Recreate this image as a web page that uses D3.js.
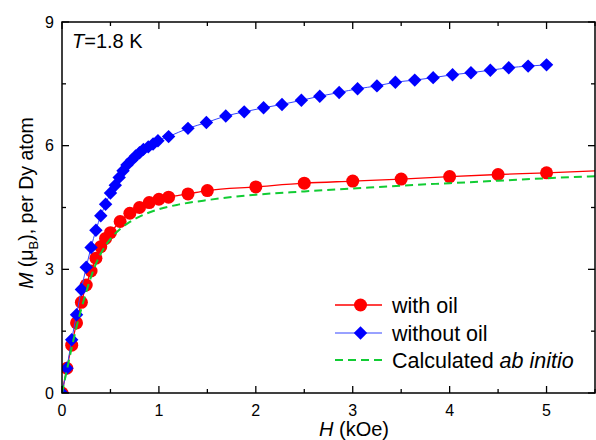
<!DOCTYPE html>
<html>
<head>
<meta charset="utf-8">
<script src="https://cdn.jsdelivr.net/npm/d3@7"></script>
<style>
  body { margin: 0; background: #fff; }
  svg { display: block; font-family: "Liberation Sans", Arial, sans-serif; }
</style>
</head>
<body>
<div id="chart"></div>
<script>
var width = 596;
var height = 440;

// with oil (red circles)
var withOilH = [0, 0.05, 0.1, 0.15, 0.2, 0.25, 0.3, 0.35, 0.4, 0.45, 0.5, 0.6, 0.7, 0.8, 0.9, 1.0, 1.1, 1.3, 1.5, 2.0, 2.5, 3.0, 3.5, 4.0, 4.5, 5.0];
var withOilM = [0, 0.6, 1.16, 1.7, 2.2, 2.62, 2.96, 3.27, 3.55, 3.75, 3.89, 4.16, 4.36, 4.5, 4.62, 4.7, 4.75, 4.83, 4.91, 5.0, 5.09, 5.14, 5.19, 5.25, 5.3, 5.34];
// the red line carries on to the right edge
var withOilTailH = [5.5];
var withOilTailM = [5.39];

// without oil (blue diamonds)
var withoutOilH = [0, 0.05, 0.1, 0.15, 0.2, 0.25, 0.3, 0.35, 0.4, 0.45, 0.5,
  0.55, 0.59, 0.63, 0.67, 0.72, 0.76, 0.8, 0.84, 0.89, 0.94, 0.99,
  1.1, 1.3, 1.49, 1.69, 1.88, 2.08, 2.27, 2.47, 2.66, 2.86, 3.05, 3.25, 3.44, 3.64, 3.83, 4.03, 4.22, 4.42, 4.61, 4.81, 5.0];
var withoutOilM = [0, 0.6, 1.29, 1.9, 2.51, 3.05, 3.53, 3.95, 4.3, 4.58, 4.85,
  5.04, 5.23, 5.39, 5.53, 5.65, 5.75, 5.83, 5.91, 5.97, 6.04, 6.12,
  6.22, 6.42, 6.56, 6.72, 6.82, 6.92, 7.0, 7.1, 7.2, 7.29, 7.38, 7.45, 7.54, 7.59, 7.65, 7.72, 7.77, 7.83, 7.89, 7.93, 7.96];

// calculated ab initio (green dashed)
var calcH = [0, 0.05, 0.1, 0.15, 0.2, 0.25, 0.3, 0.35, 0.4, 0.45, 0.5, 0.6, 0.7, 0.8, 0.9, 1.0, 1.2, 1.5, 2.0, 2.5, 3.0, 3.5, 4.0, 4.5, 5.0, 5.5];
var calcM = [0, 0.55, 1.1, 1.6, 2.05, 2.45, 2.82, 3.13, 3.38, 3.58, 3.74, 3.98, 4.15, 4.28, 4.38, 4.46, 4.57, 4.68, 4.81, 4.89, 4.96, 5.03, 5.09, 5.15, 5.21, 5.26];

var xTicks = [0, 1, 2, 3, 4, 5];
var xMinor = [0.5, 1.5, 2.5, 3.5, 4.5, 5.5];
var yTicks = [0, 3, 6, 9];
var yMinor = [1.5, 4.5, 7.5];

var legendItems = ["with oil", "without oil", "Calculated"];

var margin = {left: 62, right: 1, top: 22, bottom: 47};

var svg = d3.select("#chart")
    .append("svg")
    .attr("width", width)
    .attr("height", height);

var x = d3.scaleLinear().domain([0, 5.5]).range([margin.left, width - margin.right]);
var y = d3.scaleLinear().domain([0, 9]).range([height - margin.bottom, margin.top]);

var red = "#ff0000";
var blue = "#0000ff";
var green = "#11cc33";

function pts(hs, ms) {
    return hs.map((h, i) => ({h: h, m: ms[i]}));
}
var withOil = pts(withOilH, withOilM);
var withOilLine = withOil.concat(pts(withOilTailH, withOilTailM));
var withoutOil = pts(withoutOilH, withoutOilM);
var calc = pts(calcH, calcM);

svg.append("defs").append("clipPath")
    .attr("id", "plotclip")
    .append("rect")
    .attr("x", x(0))
    .attr("y", y(9))
    .attr("width", x(5.5) - x(0))
    .attr("height", y(0) - y(9));

var lineGen = d3.line()
    .x(d => x(d.h))
    .y(d => y(d.m))
    .curve(d3.curveMonotoneX);

var plot = svg.append("g").attr("clip-path", "url(#plotclip)");

// red series
plot.append("path")
    .datum(withOilLine)
    .attr("d", lineGen)
    .attr("fill", "none")
    .attr("stroke", red)
    .attr("stroke-width", 1.3);

plot.selectAll("circle.oil")
    .data(withOil)
    .enter()
    .append("circle")
    .attr("class", "oil")
    .attr("cx", d => x(d.h))
    .attr("cy", d => y(d.m))
    .attr("r", 6.5)
    .attr("fill", red);

// blue series
var diamond = d3.symbol().type(d3.symbolSquare).size(90);

plot.append("path")
    .datum(withoutOil)
    .attr("d", lineGen)
    .attr("fill", "none")
    .attr("stroke", "#3344ff")
    .attr("stroke-width", 1);

plot.selectAll("path.nooil")
    .data(withoutOil)
    .enter()
    .append("path")
    .attr("class", "nooil")
    .attr("d", diamond)
    .attr("transform", d => "translate(" + x(d.h) + "," + y(d.m) + ") rotate(45)")
    .attr("fill", blue);

// green calculated
plot.append("path")
    .datum(calc)
    .attr("d", lineGen)
    .attr("fill", "none")
    .attr("stroke", green)
    .attr("stroke-width", 2)
    .attr("stroke-dasharray", "8,5");

// frame
svg.append("rect")
    .attr("x", x(0))
    .attr("y", y(9))
    .attr("width", x(5.5) - x(0))
    .attr("height", y(0) - y(9))
    .attr("fill", "none")
    .attr("stroke", "black")
    .attr("stroke-width", 1.5);

var major = 7;
var minor = 4;
var axes = svg.append("g").attr("stroke", "black").attr("stroke-width", 1.3);

xTicks.forEach(function(t) {
    axes.append("line").attr("x1", x(t)).attr("x2", x(t)).attr("y1", y(0)).attr("y2", y(0) - major);
    axes.append("line").attr("x1", x(t)).attr("x2", x(t)).attr("y1", y(9)).attr("y2", y(9) + major);
});
xMinor.forEach(function(t) {
    axes.append("line").attr("x1", x(t)).attr("x2", x(t)).attr("y1", y(0)).attr("y2", y(0) - minor);
    axes.append("line").attr("x1", x(t)).attr("x2", x(t)).attr("y1", y(9)).attr("y2", y(9) + minor);
});
yTicks.forEach(function(t) {
    axes.append("line").attr("x1", x(0)).attr("x2", x(0) + major).attr("y1", y(t)).attr("y2", y(t));
    axes.append("line").attr("x1", x(5.5)).attr("x2", x(5.5) - major).attr("y1", y(t)).attr("y2", y(t));
});
yMinor.forEach(function(t) {
    axes.append("line").attr("x1", x(0)).attr("x2", x(0) + minor).attr("y1", y(t)).attr("y2", y(t));
    axes.append("line").attr("x1", x(5.5)).attr("x2", x(5.5) - minor).attr("y1", y(t)).attr("y2", y(t));
});

// tick labels
svg.selectAll("text.xt")
    .data(xTicks)
    .enter()
    .append("text")
    .attr("class", "xt")
    .attr("x", d => x(d))
    .attr("y", 416)
    .attr("text-anchor", "middle")
    .style("font-size", "16px")
    .text(d => d);

svg.selectAll("text.yt")
    .data(yTicks)
    .enter()
    .append("text")
    .attr("class", "yt")
    .attr("x", 54)
    .attr("y", d => y(d))
    .attr("dy", "0.36em")
    .attr("text-anchor", "end")
    .style("font-size", "16px")
    .text(d => d);

// axis titles
var xt = svg.append("text")
    .attr("x", 354)
    .attr("y", 436)
    .attr("text-anchor", "middle")
    .style("font-size", "20px");
xt.append("tspan").style("font-style", "italic").text("H");
xt.append("tspan").text(" (kOe)");

var yt = svg.append("text")
    .attr("transform", "translate(33,203) rotate(-90)")
    .attr("text-anchor", "middle")
    .style("font-size", "19.5px");
yt.append("tspan").style("font-style", "italic").text("M");
yt.append("tspan").text(" (\u03bc");
yt.append("tspan").attr("dy", 5).style("font-size", "13px").text("B");
yt.append("tspan").attr("dy", -5).text("), per Dy atom");

// temperature
var tt = svg.append("text")
    .attr("x", 72)
    .attr("y", 48)
    .style("font-size", "20px");
tt.append("tspan").style("font-style", "italic").text("T");
tt.append("tspan").text("=1.8 K");

// legend
var legY = [305, 333, 360];
var leg = svg.append("g");

leg.append("line").attr("x1", 335).attr("x2", 382).attr("y1", legY[0]).attr("y2", legY[0])
    .attr("stroke", red).attr("stroke-width", 1.3);
leg.append("circle").attr("cx", 360.5).attr("cy", legY[0]).attr("r", 6.5).attr("fill", red);

leg.append("line").attr("x1", 335).attr("x2", 382).attr("y1", legY[1]).attr("y2", legY[1])
    .attr("stroke", "#3344ff").attr("stroke-width", 1);
leg.append("path").attr("d", diamond)
    .attr("transform", "translate(360.5," + legY[1] + ") rotate(45)")
    .attr("fill", blue);

leg.append("line").attr("x1", 335).attr("x2", 382).attr("y1", legY[2]).attr("y2", legY[2])
    .attr("stroke", green).attr("stroke-width", 2).attr("stroke-dasharray", "8,5");

legendItems.forEach(function(label, i) {
    var t = leg.append("text")
        .attr("x", 392)
        .attr("y", legY[i])
        .attr("dy", "0.36em")
        .style("font-size", "21.5px")
        .text(label);
    if (i === 2) {
        t.append("tspan").style("font-style", "italic").text(" ab initio");
    }
});
</script>
</body>
</html>
